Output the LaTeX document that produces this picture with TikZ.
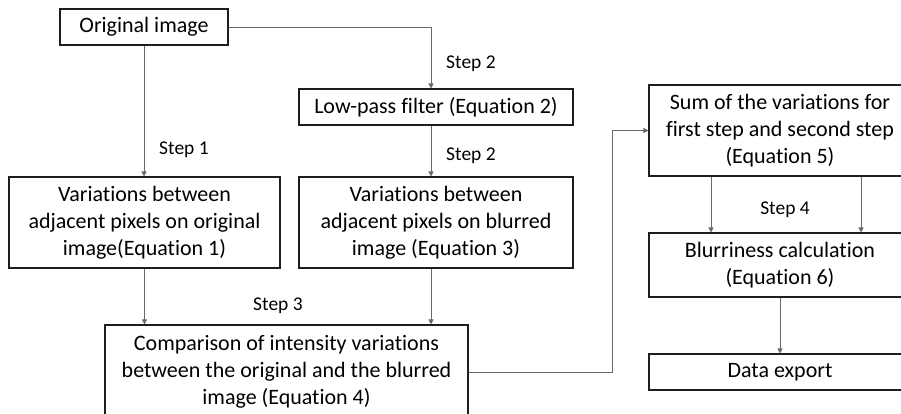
\documentclass[tikz,border=0pt]{standalone}
\usepackage{fontspec}
\setmainfont{Carlito}[RawFeature={-liga;-clig;-calt;-rlig}]
\usepackage{tikz}
\usetikzlibrary{arrows.meta,positioning,calc}
\definecolor{lineG}{RGB}{105,105,105}
\definecolor{boxK}{RGB}{30,30,30}

\begin{document}
\begin{tikzpicture}[x=1pt, y=-1pt, >={Triangle[length=5pt, width=5pt]},
  box/.style={rectangle, draw=boxK, line width=1.1pt, align=center, inner sep=0pt,
              font=\fontsize{22}{27}\selectfont},
  link/.style={->, draw=lineG, line width=0.8pt},
  lbl/.style={font=\fontsize{19.5}{23}\selectfont, inner sep=0pt}]
  \path[use as bounding box, clip] (0,0) rectangle (901,414);

  % left part: original and blurred branches
  \node[box, minimum width=168pt, minimum height=36pt] (orig) at (144,27) {Original image};
  \node[box, minimum width=274pt, minimum height=36pt] (low) at (436,107) {Low-pass filter (Equation 2)};
  \node[box, minimum width=271pt, minimum height=91pt] (var1) at (144.5,222.5)
    {Variations between\\adjacent pixels on original\\image(Equation 1)};
  \node[box, minimum width=274pt, minimum height=91pt] (var2) at (436,222.5)
    {Variations between\\adjacent pixels on blurred\\image (Equation 3)};
  \node[box, minimum width=363pt, minimum height=94pt] (comp) at (286.5,372)
    {Comparison of intensity variations\\between the original and the blurred\\image (Equation 4)};

  % right part
  \node[box, minimum width=262pt, minimum height=91pt] (sum) at (780,130.5)
    {Sum of the variations for\\first step and second step\\(Equation 5)};
  \node[box, minimum width=262pt, minimum height=64pt] (blur) at (780,265)
    {Blurriness calculation\\(Equation 6)};
  \node[box, minimum width=262pt, minimum height=36pt] (export) at (780,372) {Data export};

  % step labels
  \node[lbl] (s2a) at (471,64) {Step 2};
  \node[lbl] (s1) at (184,150) {Step 1};
  \node[lbl] (s2b) at (471,156) {Step 2};
  \node[lbl] (s3) at (278,306) {Step 3};
  \node[lbl] (s4) at (785,210) {Step 4};

  % connector columns
  \coordinate (xb) at (431,0);
  \coordinate (xc) at (612,0);
  \coordinate (xd) at (711,0);
  \coordinate (xe) at (861,0);

  \draw[link] (orig.south) -- (orig.south |- var1.north);
  \draw[link] (orig.east) -| (low.north -| xb);
  \draw[link] (low.south -| xb) -- (var2.north -| xb);
  \draw[link] (var1.south) -- (var1.south |- comp.north);
  \draw[link] (var2.south -| xb) -- (comp.north -| xb);
  \draw[link] (comp.east) -- (comp.east -| xc) |- (sum.west);
  \draw[link] (sum.south -| xd) -- (blur.north -| xd);
  \draw[link] (sum.south -| xe) -- (blur.north -| xe);
  \draw[link] (blur.south) -- (export.north);
\end{tikzpicture}
\end{document}
